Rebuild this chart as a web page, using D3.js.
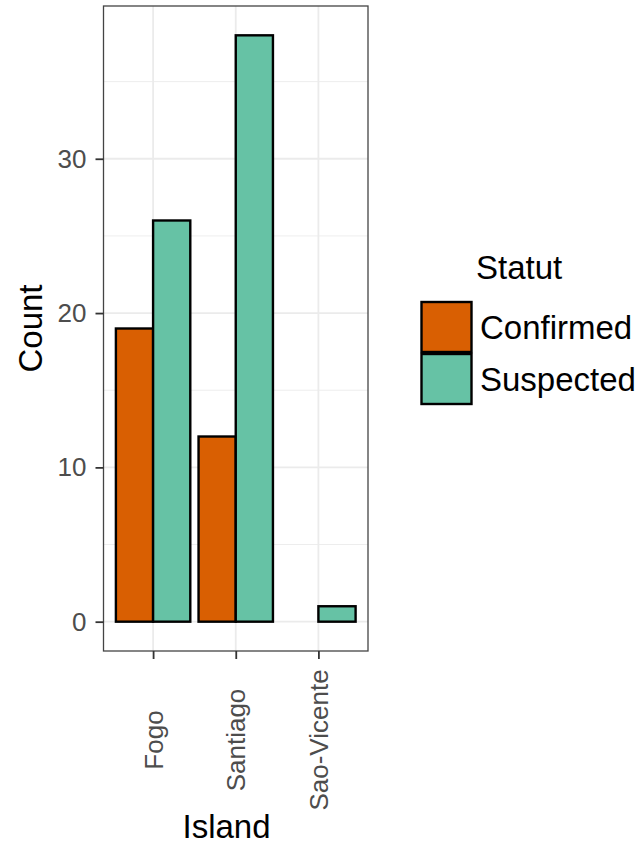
<!DOCTYPE html>
<html><head><meta charset="utf-8">
<script src="https://cdn.jsdelivr.net/npm/d3@7"></script>
<style>body{margin:0;background:#fff;} text{font-family:"Liberation Sans",Arial,sans-serif;}</style>
</head><body>
<svg id="c" width="642" height="845"></svg>
<script>
const islands = ["Fogo", "Santiago", "Sao-Vicente"];
const statuses = ["Confirmed", "Suspected"];
const confirmed = [19, 12, 0];
const suspected = [26, 38, 1];
const yTicks = [0, 10, 20, 30];
const yMinor = [5, 15, 25, 35];
const colors = ["#d95f02", "#66c2a5"];

const svg = d3.select("#c");
const P = {l: 103.5, r: 368, t: 6, b: 651};

const values = [confirmed, suspected];
const data = [];
islands.forEach((isl, i) => statuses.forEach((s, j) => {
  if (values[j][i] > 0) data.push({island: isl, status: s, value: values[j][i]});
}));

const maxV = d3.max(data, d => d.value);
const y = d3.scaleLinear().domain([-0.05 * maxV, maxV * 1.05]).range([P.b, P.t]);
// discrete x with 0.6 expansion
const step = (P.r - P.l) / (islands.length - 1 + 1.2);
const x = d3.scalePoint().domain(islands).range([P.l + 0.6 * step, P.r - 0.6 * step]);
const bw = step * 0.9 / 2;

// panel grid
const g = svg.append("g");
g.selectAll(".minor").data(yMinor).join("line")
  .attr("x1", P.l).attr("x2", P.r).attr("y1", d => y(d)).attr("y2", d => y(d))
  .attr("stroke", "#ebebeb").attr("stroke-width", 0.9);
g.selectAll(".major").data(yTicks).join("line")
  .attr("x1", P.l).attr("x2", P.r).attr("y1", d => y(d)).attr("y2", d => y(d))
  .attr("stroke", "#ebebeb").attr("stroke-width", 1.8);
g.selectAll(".xmajor").data(islands).join("line")
  .attr("x1", d => x(d)).attr("x2", d => x(d)).attr("y1", P.t).attr("y2", P.b)
  .attr("stroke", "#ebebeb").attr("stroke-width", 1.8);

// bars
svg.append("g").selectAll("rect").data(data).join("rect")
  .attr("x", d => x(d.island) + (statuses.indexOf(d.status) === 0 ? -bw : 0))
  .attr("width", bw)
  .attr("y", d => y(d.value))
  .attr("height", d => y(0) - y(d.value))
  .attr("fill", d => colors[statuses.indexOf(d.status)])
  .attr("stroke", "#000").attr("stroke-width", 2.4);

// panel border
svg.append("rect").attr("x", P.l).attr("y", P.t).attr("width", P.r - P.l).attr("height", P.b - P.t)
  .attr("fill", "none").attr("stroke", "#444").attr("stroke-width", 1.3);

// y axis
const ya = svg.append("g").attr("transform", `translate(${P.l},0)`)
  .call(d3.axisLeft(y).tickValues(yTicks).tickSize(8).tickPadding(9));
ya.select(".domain").remove();
ya.selectAll(".tick line").attr("stroke", "#333").attr("stroke-width", 1.8);
ya.selectAll(".tick text").attr("fill", "#4d4d4d").style("font-size", "26px")
  .style("font-family", "'Liberation Sans',Arial,sans-serif");

// x axis
const xa = svg.append("g").attr("transform", `translate(0,${P.b})`)
  .call(d3.axisBottom(x).tickSize(8));
xa.select(".domain").remove();
xa.selectAll(".tick line").attr("stroke", "#333").attr("stroke-width", 1.8);
xa.selectAll(".tick text").attr("fill", "#4d4d4d").style("font-size", "26px")
  .style("font-family", "'Liberation Sans',Arial,sans-serif")
  .attr("transform", "translate(0,89) rotate(-90)")
  .attr("x", 0).attr("y", 0).attr("dy", "0.35em")
  .attr("text-anchor", "middle");

// axis titles
svg.append("text").attr("x", 226.5).attr("y", 838).attr("text-anchor", "middle")
  .style("font-size", "33px").attr("fill", "#000").text("Island");
svg.append("text").attr("transform", `translate(42,${(P.t + P.b) / 2}) rotate(-90)`)
  .attr("text-anchor", "middle").style("font-size", "33px").attr("fill", "#000").text("Count");

// legend
const lg = svg.append("g");
lg.append("text").attr("x", 476).attr("y", 279).style("font-size", "33px").text("Statut");
const ky = d3.scaleBand().domain(statuses).range([301, 405]).padding(0);
statuses.forEach((s, j) => {
  lg.append("rect").attr("x", 421.5).attr("y", ky(s) + 1).attr("width", 50).attr("height", ky.bandwidth() - 2)
    .attr("fill", colors[j]).attr("stroke", "#000").attr("stroke-width", 2.4);
  lg.append("text").attr("x", 480).attr("y", ky(s) + ky.bandwidth() / 2).attr("dy", "0.35em")
    .style("font-size", "33px").text(s);
});
</script>
</body></html>
